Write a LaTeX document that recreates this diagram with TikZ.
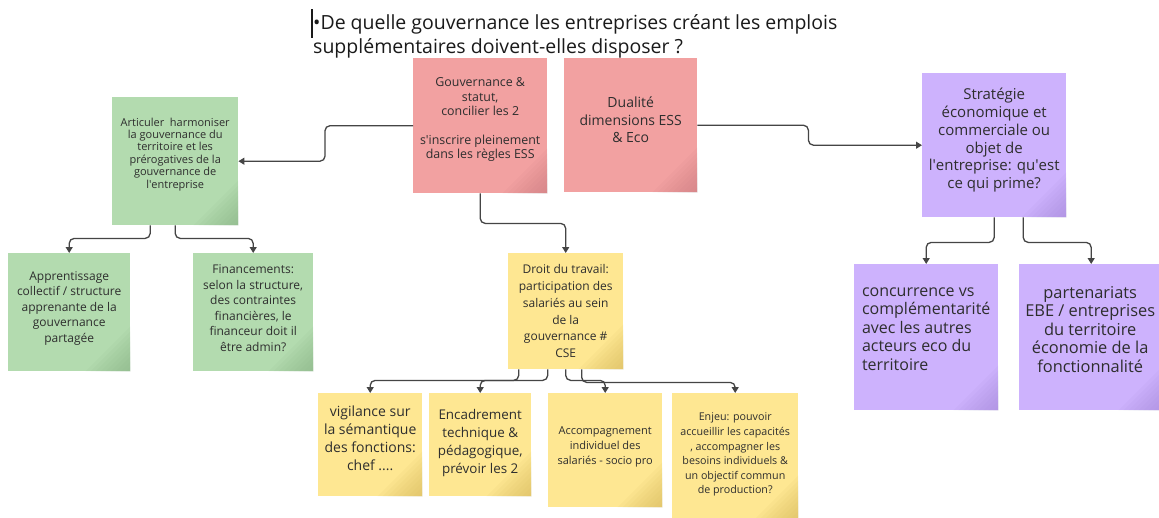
\documentclass[tikz,border=0pt]{standalone}
\usepackage{fontspec}
\setmainfont{Open Sans}
\usetikzlibrary{arrows.meta,calc}

\definecolor{pinknote}{HTML}{F2A1A1}
\definecolor{pinkdark}{HTML}{C47479}
\definecolor{greennote}{HTML}{B3DBAF}
\definecolor{greendark}{HTML}{7FAA7C}
\definecolor{yellownote}{HTML}{FEE792}
\definecolor{yellowdark}{HTML}{CFAE4E}
\definecolor{purplenote}{HTML}{CDB2FD}
\definecolor{purpledark}{HTML}{9E80D2}
\definecolor{ink}{HTML}{2E2E2E}
\definecolor{titleink}{HTML}{1A1A1A}
\definecolor{wire}{HTML}{454545}

\newcommand\notefont[2]{\fontsize{#1}{#2}\selectfont}
\newcommand\apos{\textquotesingle}
% darker fold shading in the lower right corner of a sticky note
\newcommand\notecorner[2]{%
  \foreach \k in {1,...,9}{%
    \fill[#2, fill opacity=0.07] (#1.south east) -- ++(-5*\k,0) -- ++(5*\k,-5*\k) -- cycle;}}

\tikzset{
  note/.style={rectangle, draw=none, fill=#1, inner sep=0pt, anchor=north west},
  notetext/.style={text=ink, align=center, inner sep=0pt},
  conn/.style={draw=wire, line width=1.3pt, rounded corners=5pt,
    -{Triangle[length=6pt,width=7pt]}},
}

\begin{document}
\begin{tikzpicture}[x=1pt,y=-1pt]
\clip (0,0) rectangle (1159,517);
\fill[white] (0,0) rectangle (1159,517);

% question heading
\draw[titleink, line width=1.1pt] (312,9) -- (312,38);
\node[anchor=north west, inner sep=0pt, align=left, text=titleink,
  font=\notefont{19.5}{24}] (title) at (313,14)
  {•De quelle gouvernance les entreprises créant les emplois\\
   supplémentaires doivent-elles disposer ?};

% sticky notes
\node[note=pinknote, minimum width=134pt, minimum height=135pt] (gouv) at (413,58) {};
\node[note=pinknote, minimum width=133pt, minimum height=134pt] (dual) at (564,58) {};
\node[note=greennote, minimum width=126pt, minimum height=128pt] (artic) at (112,97) {};
\node[note=greennote, minimum width=122pt, minimum height=118pt] (appr) at (8,253) {};
\node[note=greennote, minimum width=120pt, minimum height=118pt] (fin) at (193,253) {};
\node[note=yellownote, minimum width=115pt, minimum height=116pt] (droit) at (508,253) {};
\node[note=yellownote, minimum width=104pt, minimum height=103pt] (vig) at (318,393) {};
\node[note=yellownote, minimum width=102pt, minimum height=103pt] (enc) at (429,393) {};
\node[note=yellownote, minimum width=114pt, minimum height=114pt] (acc) at (548,393) {};
\node[note=yellownote, minimum width=126pt, minimum height=127pt] (enj) at (672,393) {};
\node[note=purplenote, minimum width=144pt, minimum height=144pt] (strat) at (922,73) {};
\node[note=purplenote, minimum width=144pt, minimum height=146pt] (conc) at (854,264) {};
\node[note=purplenote, minimum width=144pt, minimum height=146pt] (part) at (1019,264) {};

\notecorner{gouv}{pinkdark}
\notecorner{dual}{pinkdark}
\notecorner{artic}{greendark}
\notecorner{appr}{greendark}
\notecorner{fin}{greendark}
\notecorner{droit}{yellowdark}
\notecorner{vig}{yellowdark}
\notecorner{enc}{yellowdark}
\notecorner{acc}{yellowdark}
\notecorner{enj}{yellowdark}
\notecorner{strat}{purpledark}
\notecorner{conc}{purpledark}
\notecorner{part}{purpledark}

% note texts
\node[notetext, font=\notefont{12.4}{14.3}] (gouv-t) at ($(gouv.center)+(0,-6)$)
  {Gouvernance \&\\ statut,\\ concilier les 2\\[14.3pt] s\apos inscrire pleinement\\ dans les règles ESS};
\node[notetext, font=\notefont{14}{17.5}] (dual-t) at ($(dual.center)+(0,-5)$)
  {Dualité\\ dimensions ESS\\ \& Eco};
\node[notetext, font=\notefont{11}{12.4}] (artic-t) at ($(artic.center)+(0,-7)$)
  {Articuler\ \ harmoniser\\ la gouvernance du\\ territoire et les\\ prérogatives de la\\ gouvernance de\\ l\apos entreprise};
\node[notetext, font=\notefont{12}{15.5}] (appr-t) at ($(appr.center)+(0,-4)$)
  {Apprentissage\\ collectif / structure\\ apprenante de la\\ gouvernance\\ partagée};
\node[notetext, font=\notefont{12}{15.5}] (fin-t) at ($(fin.center)+(0,-4)$)
  {Financements:\\ selon la structure,\\ des contraintes\\ financières, le\\ financeur doit il\\ être admin?};
\node[notetext, font=\notefont{12}{16.8}] (droit-t) at ($(droit.center)+(0,0)$)
  {Droit du travail:\\ participation des\\ salariés au sein\\ de la\\ gouvernance \#\\ CSE};
\node[notetext, font=\notefont{14}{18}] (vig-t) at ($(vig.center)+(0,-6)$)
  {vigilance sur\\ la sémantique\\ des fonctions:\\ chef ....};
\node[notetext, font=\notefont{13.4}{18}] (enc-t) at ($(enc.center)+(0,-2)$)
  {Encadrement\\ technique \&\\ pédagogique,\\ prévoir les 2};
\node[notetext, font=\notefont{11}{15}] (acc-t) at ($(acc.center)+(0,-3)$)
  {Accompagnement\\ individuel des\\ salariés - socio pro};
\node[notetext, font=\notefont{10.7}{14.6}] (enj-t) at ($(enj.center)+(0,-2)$)
  {Enjeu: pouvoir\\ accueillir les capacités\\ , accompagner les\\ besoins individuels \&\\ un objectif commun\\ de production?};
\node[notetext, font=\notefont{15}{17.8}] (strat-t) at ($(strat.center)+(0,-5)$)
  {Stratégie\\ économique et\\ commerciale ou\\ objet de\\ l\apos entreprise: qu\apos est\\ ce qui prime?};
\node[notetext, align=left, font=\notefont{16}{18.5}] (conc-t) at ($(conc.center)+(0,-8)$)
  {concurrence vs\\ complémentarité\\ avec les autres\\ acteurs eco du\\ territoire};
\node[notetext, font=\notefont{16.4}{18.5}] (part-t) at ($(part.center)+(-1,-8)$)
  {partenariats\\ EBE / entreprises\\ du territoire\\ économie de la\\ fonctionnalité};

% connectors
\draw[conn] (gouv.west) -- ++(-88,0) |- (artic.east);
\draw[conn] (dual.east) -- ++(111,0) |- (strat.west);
\draw[conn] (gouv.south) -- ++(0,30) -| (droit.north);
\draw[conn] ($(artic.south)+(-25,0)$) -- ++(0,13) -| (appr.north);
\draw[conn] (artic.south) -- ++(0,13) -| (fin.north);
\draw[conn] ($(droit.south)+(-47,0)$) -- ++(0,11) -| (vig.north);
\draw[conn] ($(droit.south)+(-18,0)$) -- ++(0,11) -| (enc.north);
\draw[conn] (droit.south) -- ++(0,11) -| (acc.north);
\draw[conn] ($(droit.south)+(16,0)$) -- ++(0,13) -| (enj.north);
\draw[conn] (strat.south) -- ++(0,25) -| (conc.north);
\draw[conn] ($(strat.south)+(29,0)$) -- ++(0,25) -| (part.north);
\end{tikzpicture}
\end{document}
